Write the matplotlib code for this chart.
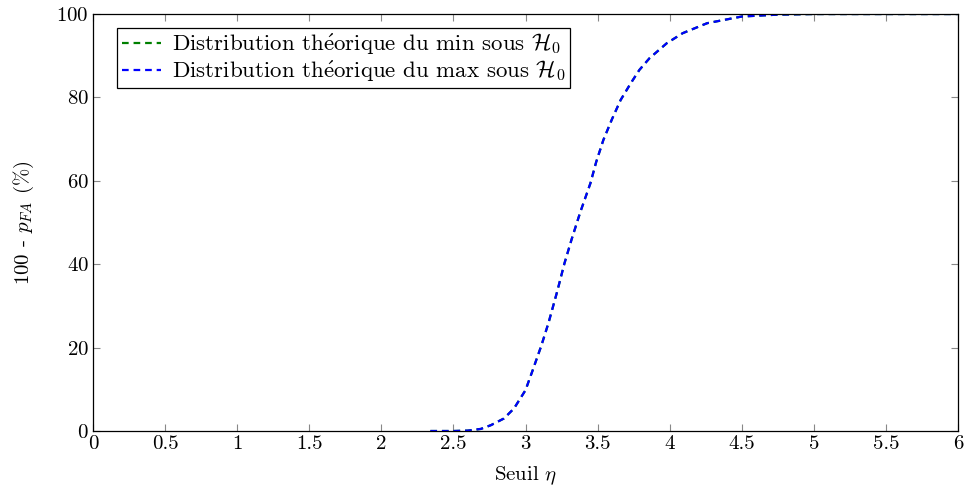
import matplotlib
matplotlib.use("Agg")
import matplotlib.pyplot as plt

# threshold values and 100 - p_FA (%)
seuil = [2.34, 2.5, 2.6, 2.69, 2.76, 2.85, 2.92, 3.0, 3.05, 3.11, 3.16, 3.22,
         3.27, 3.32, 3.38, 3.45, 3.49, 3.54, 3.6, 3.66, 3.73, 3.79, 3.86,
         3.98, 4.09, 4.26, 4.5, 4.75, 5.0, 6.0]
dist_min = [0, 0, 0.1, 0.5, 1.4, 3.0, 5.4, 9.8, 14.6, 20.5, 26.0, 33.5,
            40.2, 46.0, 52.5, 59.4, 64.5, 69.8, 74.8, 79.4, 83.4, 86.6, 89.4,
            93.0, 95.4, 97.8, 99.4, 99.85, 100, 100]
dist_max = [0, 0, 0.1, 0.5, 1.4, 3.0, 5.4, 9.8, 14.6, 20.5, 26.0, 33.5,
            40.2, 46.0, 52.5, 59.4, 64.5, 69.8, 74.8, 79.4, 83.4, 86.6, 89.4,
            93.0, 95.4, 97.8, 99.4, 99.85, 100, 100]
xticks = [0, 0.5, 1, 1.5, 2, 2.5, 3, 3.5, 4, 4.5, 5, 5.5, 6]
yticks = [0, 20, 40, 60, 80, 100]

plt.rcParams['font.family'] = ['cmr10', 'DejaVu Serif']
plt.rcParams['mathtext.fontset'] = 'cm'
plt.rcParams['axes.formatter.use_mathtext'] = True

fig = plt.figure(figsize=(9.64, 4.9), dpi=100)
ax = fig.add_axes([0.0965, 0.1204, 0.8973, 0.851])

ax.plot(seuil, dist_min, color="green", lw=1.6, dashes=(3, 2.2),
        label=r"Distribution th$\acute{\mathrm{e}}$orique du min sous $\mathcal{H}_0$")
ax.plot(seuil, dist_max, color="blue", lw=1.6, dashes=(3, 2.2),
        label=r"Distribution th$\acute{\mathrm{e}}$orique du max sous $\mathcal{H}_0$")

ax.set_xlim(0, 6)
ax.set_ylim(0, 100)
ax.set_xticks(xticks)
ax.set_xticklabels([f"{t:g}" for t in xticks])
ax.set_yticks(yticks)
ax.tick_params(direction="in", top=True, right=True, length=5, color="#888888",
               labelsize=15, pad=3)
for s in ax.spines.values():
    s.set_linewidth(0.9)

ax.set_xlabel(r"Seuil $\eta$", fontsize=15, labelpad=8)
ax.set_ylabel(r"100 - $p_{FA}$ (%)", fontsize=15, labelpad=15)

leg = ax.legend(loc="upper left", bbox_to_anchor=(0.028, 0.967), fontsize=16.5,
                fancybox=False, framealpha=1, edgecolor="black",
                handlelength=1.7, handletextpad=0.5, borderpad=0.2,
                labelspacing=0.05, borderaxespad=0)
leg.get_frame().set_linewidth(0.9)

fig.savefig("out.png", dpi=100)
